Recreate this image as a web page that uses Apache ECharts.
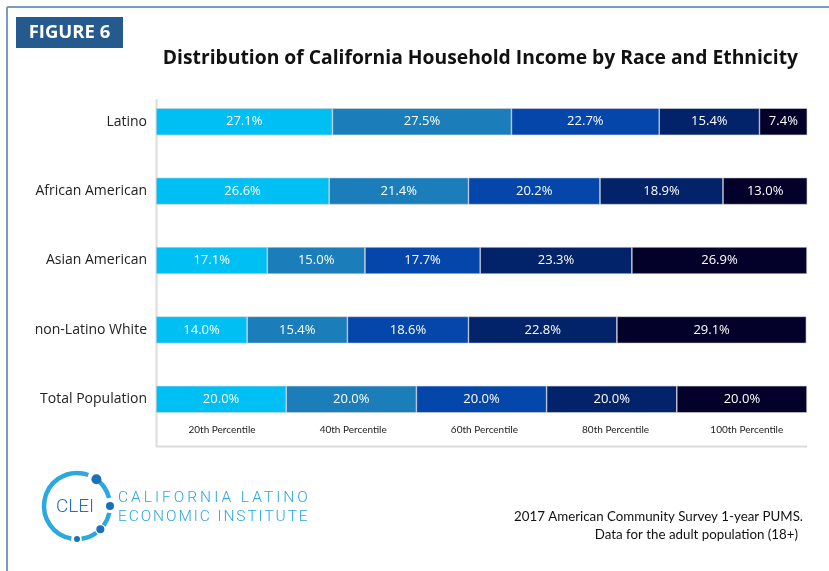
<!DOCTYPE html>
<html>
<head>
<meta charset="utf-8">
<script src="https://cdn.jsdelivr.net/npm/echarts@6/dist/echarts.min.js"></script>
<style>
html, body { margin: 0; padding: 0; background: #fff; }
#wrap { position: relative; width: 829px; height: 571px; }
#main { width: 829px; height: 571px; }
.logo-txt { position: absolute; left: 118px; font: 300 15.5px Roboto, sans-serif; color: #2aa6de; white-space: nowrap; line-height: 19px; }
</style>
</head>
<body>
<div id="wrap">
<div id="main"></div>
<div class="logo-txt" style="top:488px; letter-spacing:3px;">CALIFORNIA LATINO</div>
<div class="logo-txt" style="top:507px; letter-spacing:1.9px;">ECONOMIC INSTITUTE</div>
</div>
<script>
// groups, top to bottom
var groups = ['Latino', 'African American', 'Asian American', 'non-Latino White', 'Total Population'];
// income quintiles (share of each group, %)
var p20 = [27.1, 26.6, 17.1, 14.0, 20.0];
var p40 = [27.5, 21.4, 15.0, 15.4, 20.0];
var p60 = [22.7, 20.2, 17.7, 18.6, 20.0];
var p80 = [15.4, 18.9, 23.3, 22.8, 20.0];
var p100 = [7.4, 13.0, 26.9, 29.1, 20.0];
var seriesNames = ['20th Percentile', '40th Percentile', '60th Percentile', '80th Percentile', '100th Percentile'];
var colors = ['#00bff3', '#1c7dbb', '#0546ab', '#022369', '#03012a'];

var chart = echarts.init(document.getElementById('main'));
var txtFont = 'Lato, "Open Sans", sans-serif';
var wideFont = '"Open Sans", Lato, sans-serif';

function makeSeries(name, data, color) {
    return {
        name: name,
        type: 'bar',
        stack: 'total',
        barWidth: 27,
        data: data,
        itemStyle: { color: color, borderColor: '#d4d4dc', borderWidth: 0.6 },
        label: {
            show: true,
            position: 'inside',
            color: '#fff',
            fontSize: 13,
            fontFamily: wideFont,
            formatter: function (p) { return p.value.toFixed(1) + '%'; }
        },
        emphasis: { disabled: true }
    };
}

var allData = [p20, p40, p60, p80, p100];
var series = [];
for (var i = 0; i < allData.length; ++i) {
    series.push(makeSeries(seriesNames[i], allData[i], colors[i]));
}

// logo ring around (77,506)
var cx = 77, cy = 506, r = 33;
function deg(a) { return a * Math.PI / 180; }
function dot(a, rad) {
    return {
        type: 'circle',
        shape: { cx: cx + r * Math.cos(deg(a)), cy: cy + r * Math.sin(deg(a)), r: rad },
        style: { fill: '#1d6fb8' }
    };
}
function arc(a0, a1) {
    return {
        type: 'arc',
        shape: { cx: cx, cy: cy, r: r, startAngle: deg(a0), endAngle: deg(a1), clockwise: true },
        style: { stroke: '#2aa9e1', lineWidth: 4.5, fill: null }
    };
}

var option = {
    animation: false,
    backgroundColor: '#fff',
    color: colors,
    title: {
        text: 'Distribution of California Household Income by Race and Ethnicity',
        right: 26,
        top: 44,
        textStyle: { fontFamily: wideFont, fontWeight: 'bold', fontSize: 19.3, color: '#111' }
    },
    legend: {
        data: seriesNames,
        left: 153.4,
        top: 425,
        padding: 0,
        itemWidth: 0,
        itemHeight: 0,
        itemGap: 0,
        icon: 'rect',
        selectedMode: false,
        formatter: '{a|{name}}',
        textStyle: {
            rich: {
                a: {
                    width: 125.2, align: 'center', fontSize: 10, fontFamily: txtFont, color: '#222',
                    backgroundColor: 'rgba(255,255,255,0)'
                }
            }
        }
    },
    grid: { left: 156, right: 22, top: 87, bottom: 137 },
    xAxis: { type: 'value', min: 0, max: 100, show: false },
    yAxis: {
        type: 'category',
        data: groups,
        inverse: true,
        axisLine: { show: false },
        axisTick: { show: false },
        axisLabel: { color: '#222', fontSize: 14, fontFamily: wideFont, margin: 9 }
    },
    graphic: [
        // figure frame
        { type: 'line', shape: { x1: 7, y1: 7, x2: 829, y2: 7 }, style: { stroke: '#7b9cbf', lineWidth: 2 } },
        { type: 'line', shape: { x1: 7, y1: 7, x2: 7, y2: 571 }, style: { stroke: '#7b9cbf', lineWidth: 2 } },
        // plot frame
        { type: 'line', shape: { x1: 156.5, y1: 99, x2: 156.5, y2: 447 }, style: { stroke: '#dcdcdc', lineWidth: 2 } },
        { type: 'line', shape: { x1: 156, y1: 446.5, x2: 807, y2: 446.5 }, style: { stroke: '#dcdcdc', lineWidth: 2 } },
        // figure tag
        { type: 'rect', shape: { x: 16, y: 17, width: 107, height: 31 }, style: { fill: '#245a8d' } },
        {
            type: 'text', x: 69.5, y: 33,
            style: { text: 'FIGURE 6', fill: '#fff', font: 'bold 18.5px ' + wideFont, align: 'center', verticalAlign: 'middle' }
        },
        // logo
        arc(100, 290), arc(302, 346), arc(12, 36), arc(54, 82),
        dot(-54, 5), dot(0, 4), dot(45, 4), dot(90, 3),
        {
            type: 'text', x: 75, y: 507,
            style: { text: 'CLEI', fill: '#2b6db4', font: '300 19px Roboto, sans-serif', align: 'center', verticalAlign: 'middle' }
        },
        // source note
        {
            type: 'text', x: 803, y: 517,
            style: { text: '2017 American Community Survey 1-year PUMS.', fill: '#111', font: '13.3px ' + txtFont, align: 'right', verticalAlign: 'middle' }
        },
        {
            type: 'text', x: 798, y: 535,
            style: { text: 'Data for the adult population (18+)', fill: '#111', font: '13.3px ' + txtFont, align: 'right', verticalAlign: 'middle' }
        }
    ],
    series: series
};

chart.setOption(option);
</script>
</body>
</html>
